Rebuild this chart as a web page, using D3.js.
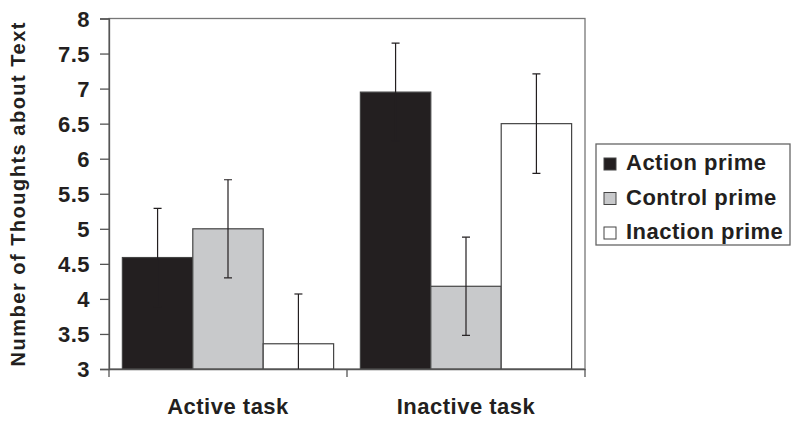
<!DOCTYPE html>
<html>
<head>
<meta charset="utf-8">
<script src="https://cdn.jsdelivr.net/npm/d3@7"></script>
<style>
  body { margin: 0; background: #fff; }
  text { font-family: "Liberation Sans", Arial, sans-serif; font-weight: bold; fill: #231f20; }
</style>
</head>
<body>
<div id="chart"></div>
<script>
// data
let tasks = ['Active task', 'Inactive task']
let primes = ['Action prime', 'Control prime', 'Inaction prime']
let means = {
  'Action prime': [4.59, 6.95],
  'Control prime': [5.0, 4.18],
  'Inaction prime': [3.36, 6.5]
}
let errors = {
  'Action prime': [0.7, 0.7],
  'Control prime': [0.7, 0.7],
  'Inaction prime': [0.71, 0.71]
}
let yTicks = [3, 3.5, 4, 4.5, 5, 5.5, 6, 6.5, 7, 7.5, 8]
let colors = ['#231f20', '#c8c9cb', '#ffffff']

let margin = { top: 18.5, left: 109, right: 215, bottom: 53 }
let width = 800 - margin.left - margin.right
let height = 422 - margin.top - margin.bottom

let svg = d3
  .select('#chart')
  .append('svg')
  .attr('width', 800)
  .attr('height', 422)

let g = svg.append('g').attr('transform', `translate(${margin.left},${margin.top})`)

let x0 = d3.scaleBand().domain(tasks).range([0, width]).padding(0)
let x1 = d3
  .scaleBand()
  .domain(primes)
  .range([0, x0.bandwidth()])
  .paddingInner(0)
  .paddingOuter(0.19)
let y = d3.scaleLinear().domain([3, 8]).range([height, 0])
let color = d3.scaleOrdinal().domain(primes).range(colors)

let rows = []
tasks.forEach((t, i) => {
  primes.forEach(p => {
    rows.push({ task: t, prime: p, value: means[p][i], err: errors[p][i] })
  })
})

// frame
g.append('rect')
  .attr('x', 0)
  .attr('y', 0)
  .attr('width', width)
  .attr('height', height)
  .attr('fill', 'none')
  .attr('stroke', '#777')
  .attr('stroke-width', 1.3)

g.append('clipPath')
  .attr('id', 'plot')
  .append('rect')
  .attr('width', width)
  .attr('height', height)

// bars
g.selectAll('.bar')
  .data(rows)
  .enter()
  .append('rect')
  .attr('class', 'bar')
  .attr('x', d => x0(d.task) + x1(d.prime))
  .attr('y', d => y(d.value))
  .attr('width', x1.bandwidth())
  .attr('height', d => height - y(d.value))
  .attr('fill', d => color(d.prime))
  .attr('stroke', '#444')
  .attr('stroke-width', 1.2)

// error bars
let eb = g
  .append('g')
  .attr('clip-path', 'url(#plot)')
  .selectAll('.err')
  .data(rows)
  .enter()
  .append('g')
  .attr('class', 'err')
  .attr('transform', d => `translate(${x0(d.task) + x1(d.prime) + x1.bandwidth() / 2},0)`)

eb.append('line')
  .attr('y1', d => y(d.value + d.err))
  .attr('y2', d => y(d.value - d.err))
  .attr('stroke', '#231f20')
  .attr('stroke-width', 1.2)

eb.selectAll('.cap')
  .data(d => [d.value + d.err, d.value - d.err])
  .enter()
  .append('line')
  .attr('x1', -4)
  .attr('x2', 4)
  .attr('y1', v => y(v))
  .attr('y2', v => y(v))
  .attr('stroke', '#231f20')
  .attr('stroke-width', 1.2)

// axes
let yAxis = d3.axisLeft(y).tickValues(yTicks).tickSize(9).tickPadding(10).tickFormat(d3.format('~g'))
g.append('g')
  .attr('class', 'axis y-axis')
  .call(yAxis)
  .call(a => a.selectAll('line, path').attr('stroke', '#555').attr('stroke-width', 1.3))
  .call(a => a.selectAll('text').attr('font-size', 22).attr('letter-spacing', 0.5).attr('fill', '#231f20').attr('dy', '0.36em'))

let xAxis = d3.axisBottom(x0).tickSize(0).tickPadding(29)
g.append('g')
  .attr('class', 'axis x-axis')
  .attr('transform', `translate(0,${height})`)
  .call(xAxis)
  .call(a => a.select('.domain').attr('stroke', '#555').attr('stroke-width', 1.3))
  .call(a => a.selectAll('text').attr('font-size', 22).attr('letter-spacing', 0.5).attr('fill', '#231f20'))

// category boundary ticks
g.append('g')
  .selectAll('line')
  .data([0, 1, 2])
  .enter()
  .append('line')
  .attr('x1', i => i * x0.step())
  .attr('x2', i => i * x0.step())
  .attr('y1', height)
  .attr('y2', height + 8)
  .attr('stroke', '#555')
  .attr('stroke-width', 1.3)

// y title
svg
  .append('text')
  .attr('transform', `translate(25,${margin.top + height / 2}) rotate(-90)`)
  .attr('text-anchor', 'middle')
  .attr('font-size', 20)
  .attr('letter-spacing', 1.5)
  .text('Number of Thoughts about Text')

// legend
let legend = svg.append('g').attr('transform', 'translate(596,144)')
legend
  .append('rect')
  .attr('width', 194)
  .attr('height', 101)
  .attr('fill', '#fff')
  .attr('stroke', '#666')
  .attr('stroke-width', 1.3)

let item = legend
  .selectAll('.item')
  .data(primes)
  .enter()
  .append('g')
  .attr('class', 'item')
  .attr('transform', (d, i) => `translate(8,${14 + i * 34.5})`)

item.append('rect')
  .attr('width', 12)
  .attr('height', 12)
  .attr('fill', d => color(d))
  .attr('stroke', '#444')
  .attr('stroke-width', 1)

item.append('text')
  .attr('x', 22)
  .attr('y', 12)
  .attr('font-size', 22)
  .attr('letter-spacing', 0.5)
  .text(d => d)
</script>
</body>
</html>
